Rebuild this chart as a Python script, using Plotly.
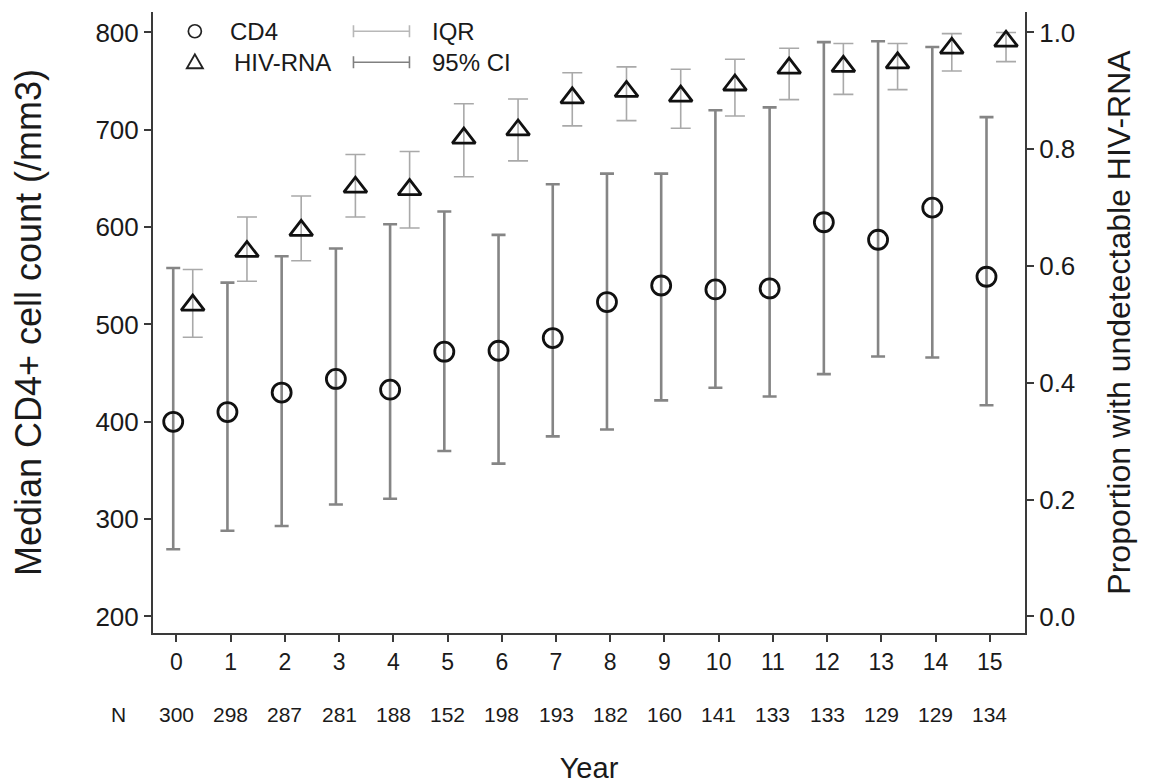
import plotly.graph_objects as go

# ---- data ----
years = list(range(16))
n_at_risk = [300, 298, 287, 281, 188, 152, 198, 193, 182, 160, 141, 133, 133, 129, 129, 134]

cd4_median = [400, 410, 430, 444, 433, 472, 473, 486, 523, 540, 536, 537, 605, 587, 620, 549]
cd4_lower = [269, 288, 293, 315, 321, 370, 357, 385, 392, 422, 435, 426, 449, 467, 466, 417]
cd4_upper = [558, 543, 570, 578, 603, 616, 592, 644, 655, 655, 720, 723, 790, 791, 785, 713]

hiv_prop = [0.533, 0.625, 0.661, 0.735, 0.731, 0.819, 0.833, 0.888, 0.899, 0.891,
            0.910, 0.939, 0.942, 0.948, 0.973, 0.985]
hiv_lower = [0.478, 0.574, 0.609, 0.684, 0.665, 0.753, 0.780, 0.840, 0.849, 0.836,
             0.857, 0.885, 0.894, 0.902, 0.934, 0.950]
hiv_upper = [0.594, 0.684, 0.720, 0.791, 0.796, 0.878, 0.886, 0.931, 0.941, 0.937,
             0.954, 0.973, 0.981, 0.981, 0.998, 1.000]

# ---- styling ----
FONT = "Liberation Sans, Arial, Helvetica, sans-serif"
TXT = "#1a1a1a"
AX = "#3a3a3a"
CD4_BAR = "#858585"
HIV_BAR = "#a9a9a9"
CD4_OFFSET = -0.06
HIV_OFFSET = 0.30

cd4_x = [y + CD4_OFFSET for y in years]
hiv_x = [y + HIV_OFFSET for y in years]

fig = go.Figure()

fig.add_trace(go.Scatter(
    x=cd4_x, y=cd4_median, mode="markers", name="CD4",
    marker=dict(symbol="circle-open", size=19, color="#111111", line=dict(width=2.8)),
    error_y=dict(type="data", symmetric=False,
                 array=[u - m for u, m in zip(cd4_upper, cd4_median)],
                 arrayminus=[m - l for m, l in zip(cd4_median, cd4_lower)],
                 color=CD4_BAR, thickness=2.6, width=7),
    showlegend=False,
))

fig.add_trace(go.Scatter(
    x=hiv_x, y=hiv_prop, mode="markers", name="HIV-RNA", yaxis="y2",
    marker=dict(symbol="triangle-up-open", size=20, color="#111111", line=dict(width=2.8)),
    error_y=dict(type="data", symmetric=False,
                 array=[u - m for u, m in zip(hiv_upper, hiv_prop)],
                 arrayminus=[m - l for m, l in zip(hiv_prop, hiv_lower)],
                 color=HIV_BAR, thickness=1.6, width=10),
    showlegend=False,
))

# ---- manual legend (paper coordinates, pixel-sized glyphs) ----
shapes = []
annotations = []
leg_x_marker = 0.048
leg_y1 = 0.969
leg_y2 = 0.919
shapes.append(dict(type="circle", xref="paper", yref="paper",
                   xsizemode="pixel", ysizemode="pixel",
                   xanchor=leg_x_marker, yanchor=leg_y1,
                   x0=-6.5, x1=6.5, y0=-6.5, y1=6.5,
                   line=dict(color="#222222", width=1.7)))
shapes.append(dict(type="path", xref="paper", yref="paper",
                   xsizemode="pixel", ysizemode="pixel",
                   xanchor=leg_x_marker, yanchor=leg_y2,
                   path="M -8 -6 L 8 -6 L 0 8 Z",
                   line=dict(color="#222222", width=1.9)))

def errglyph(y_anchor, color, width):
    shapes.append(dict(type="path", xref="paper", yref="paper",
                       xsizemode="pixel", ysizemode="pixel",
                       xanchor=0.262, yanchor=y_anchor,
                       path="M -28 0 L 28 0 M -28 -6 L -28 6 M 28 -6 L 28 6",
                       line=dict(color=color, width=width)))

errglyph(leg_y1, "#b8b8b8", 1.6)
errglyph(leg_y2, "#808080", 1.6)

for txt, x, y in [("CD4", 0.086, leg_y1), ("HIV-RNA", 0.091, leg_y2),
                  ("IQR", 0.318, leg_y1), ("95% CI", 0.318, leg_y2)]:
    annotations.append(dict(text=txt, x=x, y=y, xref="paper", yref="paper",
                            xanchor="left", yanchor="middle", showarrow=False,
                            font=dict(family=FONT, size=24, color=TXT)))

# ---- N row under the x axis ----
for yr, n in zip(years, n_at_risk):
    annotations.append(dict(text=str(n), x=yr, y=-0.132, xref="x", yref="paper",
                            xanchor="center", yanchor="middle", showarrow=False,
                            font=dict(family=FONT, size=21, color=TXT)))
annotations.append(dict(text="N", x=-0.040, y=-0.132, xref="paper", yref="paper",
                        xanchor="center", yanchor="middle", showarrow=False,
                        font=dict(family=FONT, size=21, color=TXT)))

# page body has an 8px default margin: size the figure so it fits the window
fig.update_layout(
    width=1141, height=776,
    margin=dict(l=145, r=124, t=4, b=151),
    paper_bgcolor="white", plot_bgcolor="white",
    font=dict(family=FONT, color=TXT),
    showlegend=False,
    shapes=shapes,
    annotations=annotations,
    xaxis=dict(
        range=[-0.433, 15.65], tickmode="array", tickvals=years,
        ticktext=[str(y) for y in years],
        ticks="outside", ticklen=7, tickwidth=2, tickcolor=AX,
        showline=True, linecolor=AX, linewidth=2, mirror=False,
        showgrid=False, zeroline=False,
        tickfont=dict(family=FONT, size=23, color=TXT),
        title=dict(text="Year", font=dict(family=FONT, size=29, color=TXT), standoff=85),
    ),
    yaxis=dict(
        range=[183, 821], tickmode="array", tickvals=[200, 300, 400, 500, 600, 700, 800],
        ticks="outside", ticklen=7, tickwidth=2, tickcolor=AX,
        showline=True, linecolor=AX, linewidth=2,
        showgrid=False, zeroline=False,
        tickfont=dict(family=FONT, size=26, color=TXT),
        title=dict(text="Median CD4+ cell count (/mm3)",
                   font=dict(family=FONT, size=36, color=TXT), standoff=44),
    ),
    yaxis2=dict(
        overlaying="y", side="right",
        range=[-0.0284, 1.035], tickmode="array", tickvals=[0, 0.2, 0.4, 0.6, 0.8, 1.0],
        tickformat=".1f",
        ticks="outside", ticklen=7, tickwidth=2, tickcolor=AX,
        showline=True, linecolor=AX, linewidth=2,
        showgrid=False, zeroline=False,
        tickfont=dict(family=FONT, size=26, color=TXT),
        title=dict(text="Proportion with undetectable HIV-RNA",
                   font=dict(family=FONT, size=32, color=TXT), standoff=33),
    ),
)

fig.write_html("out.html")
